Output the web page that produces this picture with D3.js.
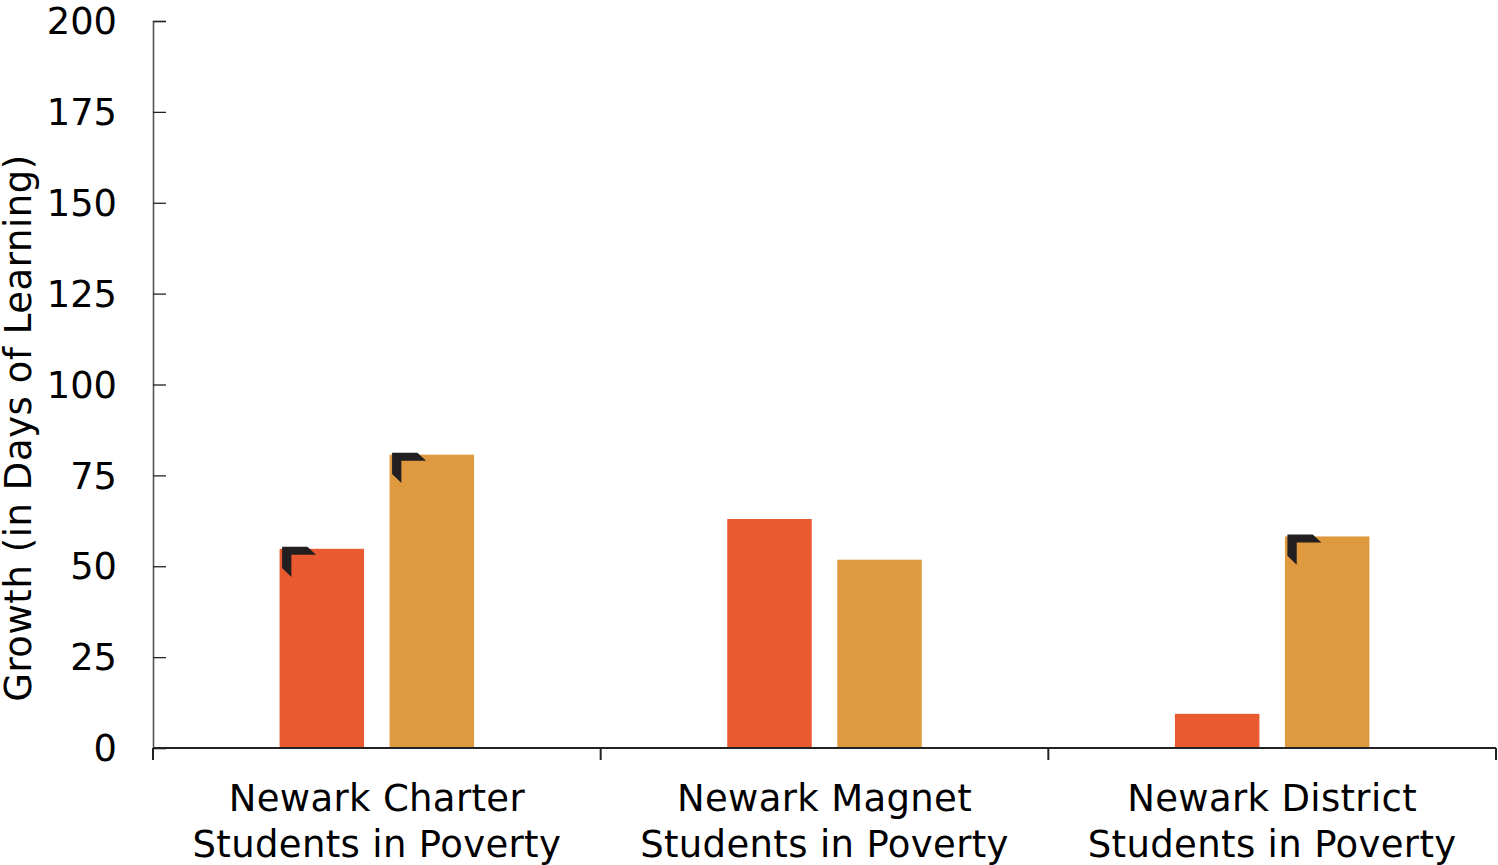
<!DOCTYPE html>
<html>
<head>
<meta charset="utf-8">
<script src="https://cdn.jsdelivr.net/npm/d3@7/dist/d3.min.js"></script>
<style>
  html, body { margin: 0; padding: 0; background: #fff; }
  svg { display: block; }
  text { font-family: "DejaVu Sans", sans-serif; fill: #000; }
</style>
</head>
<body>
<svg id="chart" width="1498" height="865"></svg>
<script>
const categories = ["Newark Charter", "Newark Magnet", "Newark District"];
const subLabel = "Students in Poverty";
const groups = ["first", "second"];
const firstValues = [54.8, 63, 9.4];
const secondValues = [80.7, 51.8, 58.2];
// A corner flag marks bars whose growth differs significantly.
const firstFlagged = [true, false, false];
const secondFlagged = [true, false, true];
const yTicks = [0, 25, 50, 75, 100, 125, 150, 175, 200];
const colors = ["#e95a30", "#df9a3f"];
const yTitle = "Growth (in Days of Learning)";

const svg = d3.select("#chart");
const x = d3.scaleBand().domain(categories).range([153, 1496]);
const inner = d3.scalePoint().domain(groups).range([-55, 55]);
const y = d3.scaleLinear().domain([0, 200]).range([748, 21]);
const barWidth = 84.5;

const rows = categories.flatMap((c, i) => [
  { c, g: "first", v: firstValues[i], flag: firstFlagged[i], color: colors[0] },
  { c, g: "second", v: secondValues[i], flag: secondFlagged[i], color: colors[1] }
]);
const barLeft = d => x(d.c) + x.bandwidth() / 2 + inner(d.g) - barWidth / 2;

svg.append("g").selectAll("rect").data(rows).join("rect")
  .attr("x", barLeft)
  .attr("y", d => y(d.v))
  .attr("width", barWidth)
  .attr("height", d => y(0) - y(d.v))
  .attr("fill", d => d.color);

// Corner flag glyph, anchored just inside the top-left of its bar.
const flag = "M0,0 H25.3 L34,8 H9.3 V30.3 L0,21.3 Z";
svg.append("g").selectAll("path").data(rows.filter(d => d.flag)).join("path")
  .attr("d", flag)
  .attr("fill", "#231f20")
  .attr("transform", d => `translate(${barLeft(d) + 2.5},${y(d.v) - 2})`);

// Value axis
const yAxis = svg.append("g").attr("transform", "translate(153,0)")
  .call(d3.axisLeft(y).tickValues(yTicks).tickSize(-13).tickPadding(36).tickFormat(d3.format("d")));
yAxis.selectAll("text").attr("font-size", 36.8).attr("font-family", '"DejaVu Sans", sans-serif')
  .attr("fill", "#000").attr("x", -36).attr("dy", "0.345em");
yAxis.selectAll("line").attr("stroke", "#222").attr("stroke-width", 1.3);
yAxis.select(".domain").attr("stroke", "#555").attr("stroke-width", 1.6);

// Category axis: boundaries between groups carry the ticks
const edges = categories.map(c => x(c)).concat([x.range()[1]]);
svg.append("line").attr("x1", 153).attr("x2", 1496).attr("y1", 748).attr("y2", 748)
  .attr("stroke", "#222").attr("stroke-width", 2);
svg.append("g").selectAll("line").data(edges).join("line")
  .attr("x1", d => d).attr("x2", d => d).attr("y1", 748).attr("y2", 760)
  .attr("stroke", "#222").attr("stroke-width", 2);

const labels = svg.append("g").selectAll("text").data(categories).join("text")
  .attr("text-anchor", "middle").attr("font-size", 37).attr("letter-spacing", 0.35);
labels.append("tspan")
  .attr("x", d => x(d) + x.bandwidth() / 2).attr("y", 811)
  .text(d => d);
labels.append("tspan")
  .attr("x", d => x(d) + x.bandwidth() / 2).attr("y", 857)
  .text(subLabel);

svg.append("text")
  .attr("transform", "translate(31,428) rotate(-90)")
  .attr("text-anchor", "middle").attr("font-size", 37).attr("letter-spacing", 0.55)
  .text(yTitle);
</script>
</body>
</html>
